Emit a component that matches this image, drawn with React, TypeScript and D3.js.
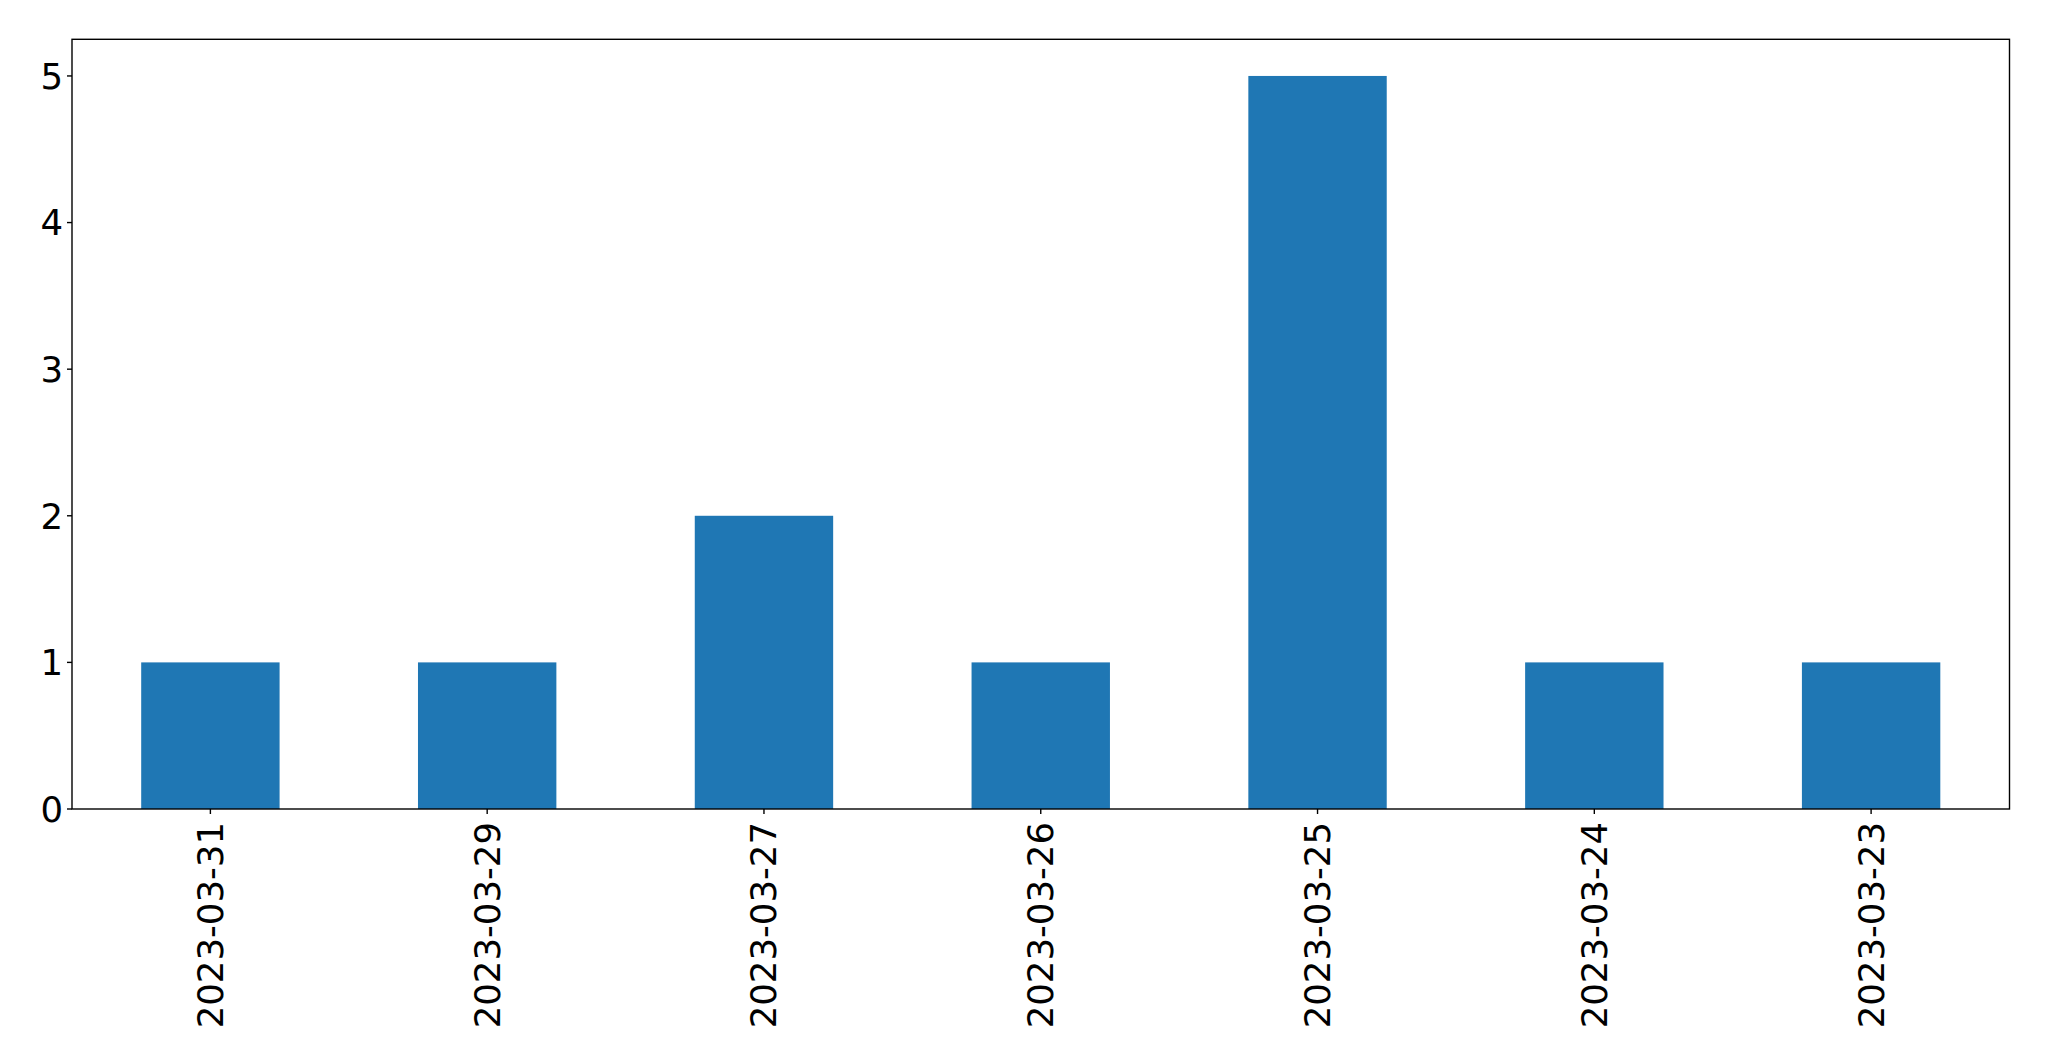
import React from "react";
import * as d3 from "d3";

const categories = ["2023-03-31", "2023-03-29", "2023-03-27", "2023-03-26", "2023-03-25", "2023-03-24", "2023-03-23"];
const values = [1, 1, 2, 1, 5, 1, 1];
const yTicks = [0, 1, 2, 3, 4, 5];

const W = 2049;
const H = 1061;
const left = 72;
const right = 2009.5;
const top = 39.3;
const bottom = 809;
const FONT = "'DejaVu Sans', sans-serif";
const FS = 35.5;

export default function App() {
  const x = d3.scaleBand<string>().domain(categories).range([left, right]).paddingInner(0.5).paddingOuter(0.25);
  const y = d3.scaleLinear().domain([0, 5.25]).range([bottom, top]);
  return (
    <svg width={W} height={H} style={{ position: "absolute", left: 0, top: 0, background: "#fff" }}>
      <rect x={0} y={0} width={W} height={H} fill="#fff" />
      {categories.map((c, i) => (
        <rect key={c} x={x(c)} y={y(values[i])} width={x.bandwidth()} height={y(0) - y(values[i])} fill="#1f77b4" />
      ))}
      <rect x={left} y={top} width={right - left} height={bottom - top} fill="none" stroke="#000" strokeWidth={1.4} />
      {yTicks.map((t) => (
        <g key={t}>
          <line x1={left - 5} x2={left} y1={y(t)} y2={y(t)} stroke="#000" strokeWidth={1.4} />
          <text x={left - 9} y={y(t)} dy="0.36em" textAnchor="end" fontFamily={FONT} fontSize={FS} fill="#000">
            {t}
          </text>
        </g>
      ))}
      {categories.map((c) => {
        const cx = (x(c) as number) + x.bandwidth() / 2;
        return (
          <g key={c}>
            <line x1={cx} x2={cx} y1={bottom} y2={bottom + 5} stroke="#000" strokeWidth={1.4} />
            <text
              transform={`translate(${cx},${bottom + 13}) rotate(-90)`}
              dy="0.35em"
              textAnchor="end"
              fontFamily={FONT}
              fontSize={FS}
              fill="#000"
            >
              {c}
            </text>
          </g>
        );
      })}
    </svg>
  );
}
